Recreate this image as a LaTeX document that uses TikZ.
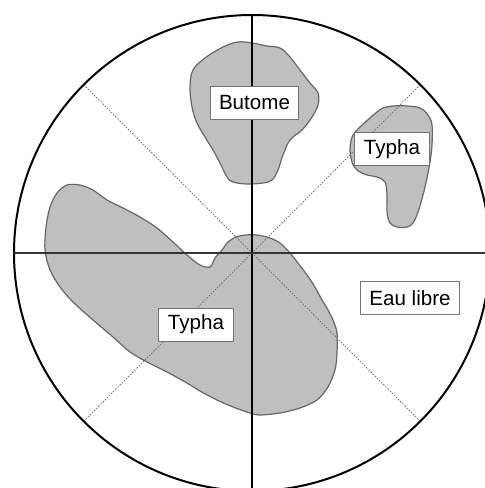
\documentclass[tikz,border=0pt]{standalone}
\usepackage{fontspec}
\setmainfont{Liberation Sans}
\begin{document}
\begin{tikzpicture}[x=0.5pt,y=-0.5pt,line join=round,line cap=round,
  blob/.style={fill=black!25,draw=black!60,line width=0.6pt},
  axis/.style={black,line width=1pt},
  diag/.style={black!55,line width=0.5pt,densely dotted},
  tag/.style={draw=black!55,fill=white,line width=0.5pt,inner xsep=4.5pt,inner ysep=0pt,
    minimum height=16.5pt,font=\fontsize{10.3}{12}\selectfont}]
  \useasboundingbox (0,0) rectangle (485,488);
  \clip (0,0) rectangle (485,488);
  \coordinate (O) at (252,253);
  % zones
  \draw[blob] plot[smooth cycle,tension=0.6] coordinates {(238,42) (252,43) (267,46) (280,48) (290,57)
    (300,70) (310,83) (318,93) (318,105) (312,117) (302,130) (290,140) (283,155) (278,170)
    (272,180) (263,183) (247,184) (233,182) (227,177) (220,163) (213,150) (205,137) (197,123)
    (192,107) (190,87) (193,70) (205,58) (223,47)};
  \draw[blob] plot[smooth cycle,tension=0.6] coordinates {(383,108) (393,106) (407,106) (420,108)
    (428,115) (432,125) (432,145) (430,162) (427,178) (423,195) (418,212) (413,223) (407,227)
    (397,227) (390,223) (387,212) (387,195) (385,182) (377,177) (367,175) (357,170) (352,162)
    (350,148) (353,135) (360,127) (370,118) (377,112)};
  \draw[blob] plot[smooth cycle,tension=0.5] coordinates {(67,185) (80,185) (93,190) (107,200)
    (123,208) (140,217) (157,228) (173,242) (187,255) (200,265) (210,267) (215,258) (222,250)
    (228,242) (236,237) (246,235) (257,235) (270,238) (280,243) (290,253) (298,263) (307,275)
    (315,287) (322,300) (327,308) (333,320) (337,333) (337,353) (335,370) (328,387) (317,400)
    (300,408) (280,413) (260,415) (250,413) (233,407) (217,400) (200,391) (187,383) (167,372)
    (147,362) (130,352) (113,337) (93,320) (73,302) (60,287) (50,270) (45,250) (46,227)
    (50,207) (57,193)};
  % axes
  \draw[diag] (O) -- ++(-168,-168);
  \draw[diag] (O) -- ++(168,-168);
  \draw[diag] (O) -- ++(-168,168);
  \draw[diag] (O) -- ++(168,168);
  \draw[axis] (O) circle (238);
  \draw[axis] (252,15) -- (252,491);
  \draw[axis,black!80,line width=0.8pt] (14,253) -- (490,253);
  % labels
  \node[tag] (butome) at (254.5,103) {Butome};
  \node[tag] (typhaR) at (392,149) {Typha};
  \node[tag] (eau) at (410,298) {Eau libre};
  \node[tag] (typhaL) at (196,324.5) {Typha};
\end{tikzpicture}
\end{document}
